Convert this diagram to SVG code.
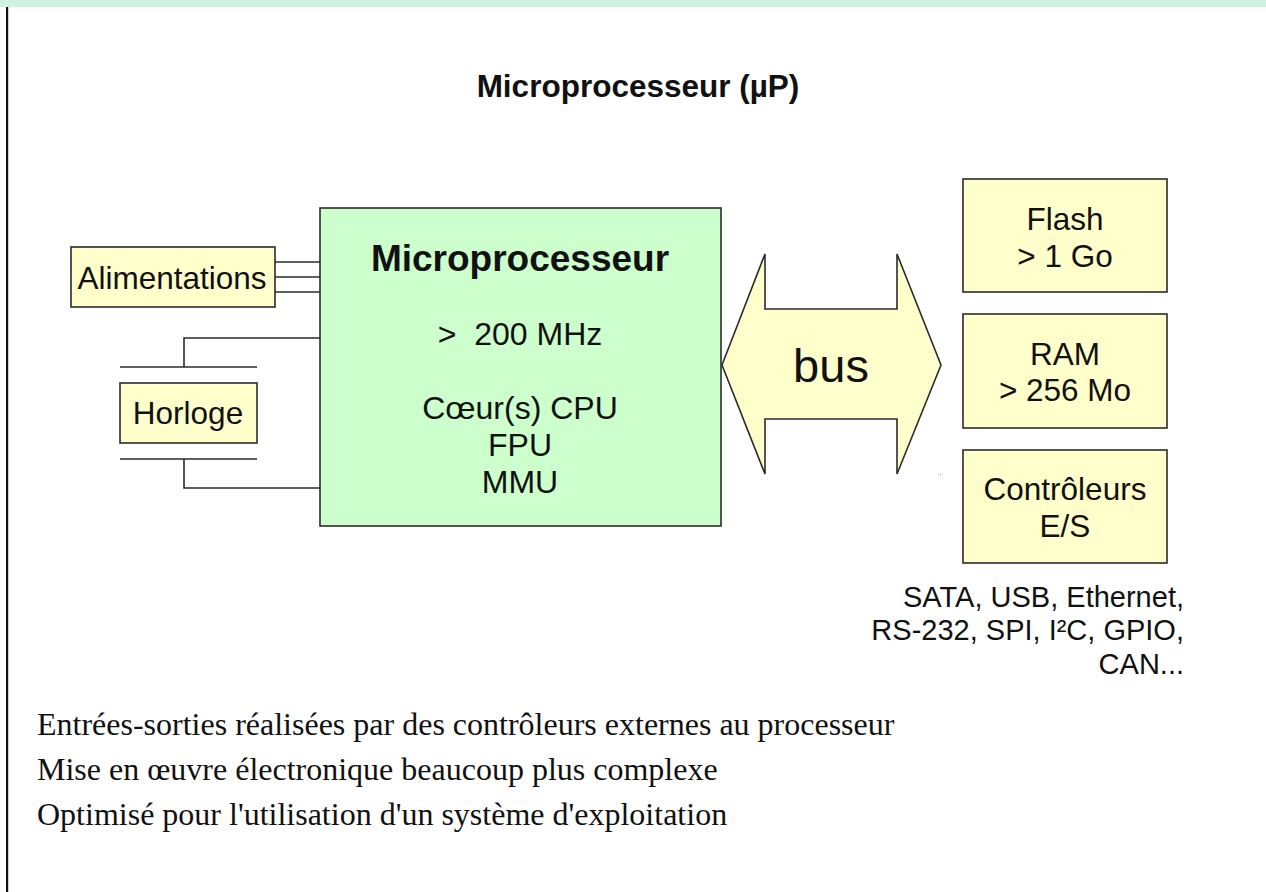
<svg xmlns="http://www.w3.org/2000/svg" width="1266" height="892" viewBox="0 0 1266 892">
  <style>
    .box { stroke: #2b2b2b; stroke-width: 1.6; }
    .cream { fill: #ffffcc; }
    .green { fill: #ccffcc; }
    .wire { fill: none; stroke: #2b2b2b; stroke-width: 1.6; }
    .sans { font-family: "Liberation Sans", Arial, sans-serif; fill: #111; }
    .serif { font-family: "Liberation Serif", "Times New Roman", serif; fill: #111; font-size: 32px; }
    .mid { text-anchor: middle; }
    .b32 { font-size: 31.5px; }
  </style>

  <!-- page frame -->
  <rect x="0" y="0" width="1266" height="892" fill="#ffffff"/>
  <rect x="0" y="0" width="1266" height="7" fill="#d0f0e0"/>
  <rect x="6" y="7" width="2.2" height="885" fill="#111"/>

  <!-- title -->
  <text class="sans mid" x="638" y="97" font-size="31.5" font-weight="bold">Microprocesseur (µP)</text>

  <!-- connectors -->
  <g id="connectors">
    <line class="wire" x1="275" y1="262" x2="320" y2="262"/>
    <line class="wire" x1="275" y1="277" x2="320" y2="277"/>
    <line class="wire" x1="275" y1="292" x2="320" y2="292"/>
    <polyline class="wire" points="320,338 184,338 184,367"/>
    <line class="wire" x1="120" y1="367" x2="257" y2="367"/>
    <line class="wire" x1="120" y1="459" x2="257" y2="459"/>
    <polyline class="wire" points="184,459 184,488 320,488"/>
  </g>

  <g id="alimentations">
    <rect class="box cream" x="71" y="247" width="204" height="60"/>
    <text class="sans mid b32" x="172" y="289">Alimentations</text>
  </g>

  <g id="horloge">
    <rect class="box cream" x="120" y="383" width="137" height="60"/>
    <text class="sans mid b32" x="188" y="424">Horloge</text>
  </g>

  <g id="microprocesseur">
    <rect class="box green" x="320" y="208" width="401" height="318"/>
    <text class="sans mid" x="520" y="271" font-size="37" font-weight="bold">Microprocesseur</text>
    <text class="sans mid" x="520" y="345" font-size="32" xml:space="preserve">&gt;  200 MHz</text>
    <text class="sans mid" x="520" y="419" font-size="32">Cœur(s) CPU</text>
    <text class="sans mid" x="520" y="456" font-size="32">FPU</text>
    <text class="sans mid" x="520" y="493" font-size="32">MMU</text>
  </g>

  <g id="bus">
    <polygon class="box cream" points="722,365 765,254 765,309 897,309 897,254 941,365 897,474 897,419 765,419 765,474"/>
    <text class="sans mid" x="831" y="382" font-size="47">bus</text>
  </g>
  <rect x="940" y="474" width="1" height="1" fill="#888"/>

  <g id="flash">
    <rect class="box cream" x="963" y="179" width="204" height="113"/>
    <text class="sans mid b32" x="1065" y="230">Flash</text>
    <text class="sans mid b32" x="1065" y="267">&gt; 1 Go</text>
  </g>

  <g id="ram">
    <rect class="box cream" x="963" y="314" width="204" height="114"/>
    <text class="sans mid b32" x="1065" y="365">RAM</text>
    <text class="sans mid b32" x="1065" y="401">&gt; 256 Mo</text>
  </g>

  <g id="controleurs">
    <rect class="box cream" x="963" y="450" width="204" height="113"/>
    <text class="sans mid b32" x="1065" y="500">Contrôleurs</text>
    <text class="sans mid b32" x="1065" y="537">E/S</text>
  </g>

  <g id="interfaces" class="sans" font-size="29" text-anchor="end">
    <text x="1184" y="607">SATA, USB, Ethernet,</text>
    <text x="1184" y="640">RS-232, SPI, I²C, GPIO,</text>
    <text x="1184" y="674">CAN...</text>
  </g>

  <g id="notes">
    <text class="serif" x="37" y="735">Entrées-sorties réalisées par des contrôleurs externes au processeur</text>
    <text class="serif" x="37" y="780">Mise en œuvre électronique beaucoup plus complexe</text>
    <text class="serif" x="37" y="825">Optimisé pour l'utilisation d'un système d'exploitation</text>
  </g>
</svg>
